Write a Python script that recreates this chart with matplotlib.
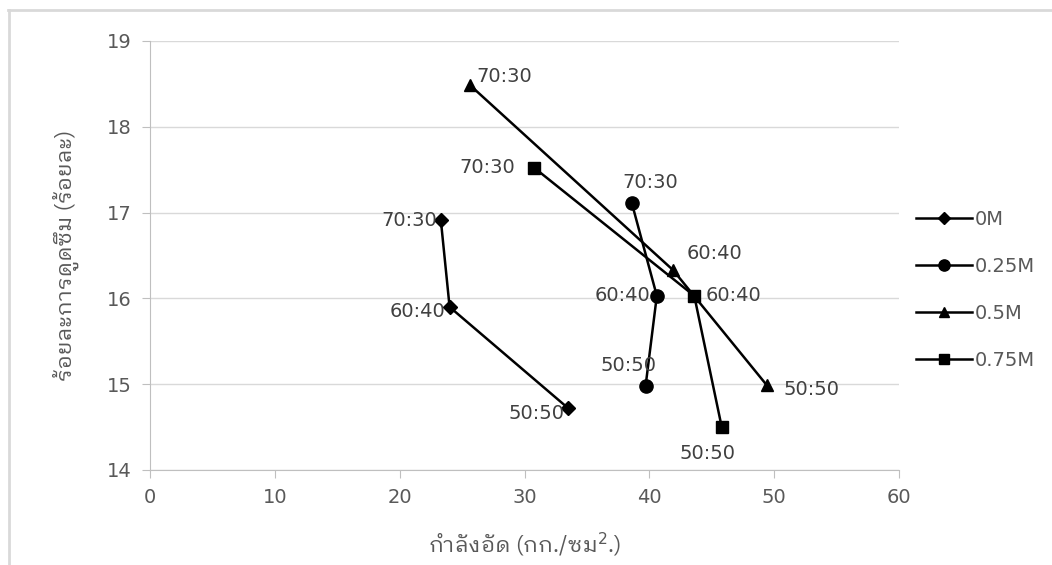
import matplotlib
matplotlib.use("Agg")
import matplotlib.pyplot as plt
from matplotlib.lines import Line2D

series = ["0M", "0.25M", "0.5M", "0.75M"]
labels_pt = ["70:30", "60:40", "50:50"]
x_0M = [23.3, 24.0, 33.5]
y_0M = [16.91, 15.90, 14.72]
x_025M = [38.6, 40.6, 39.7]
y_025M = [17.11, 16.03, 14.98]
x_05M = [25.6, 41.9, 49.4]
y_05M = [18.49, 16.33, 14.99]
x_075M = [30.8, 43.6, 45.8]
y_075M = [17.52, 16.03, 14.50]

xs = [x_0M, x_025M, x_05M, x_075M]
ys = [y_0M, y_025M, y_05M, y_075M]
markers = ["D", "o", "^", "s"]
msizes = [7, 9.5, 9, 9]

W, H = 1052, 565
fig = plt.figure(figsize=(W/100, H/100), dpi=100)
ax = fig.add_axes([150/W, 1-470/H, (899-150)/W, (470-41)/H])

for x, y, m, ms, s in zip(xs, ys, markers, msizes, series):
    ax.plot(x, y, color="black", lw=1.8, marker=m, ms=ms, label=s)

txtc = "#404040"
fs = 14
# label offsets in points (dx, dy, ha, va)
offs = [
    [(-3, 0, "right", "center"), (-3, -3, "right", "center"), (-3, -4, "right", "center")],
    [(-7, 8, "left", "bottom"), (-5, 0, "right", "center"), (-12, 8, "center", "bottom")],
    [(5, 6, "left", "center"), (10, 5, "left", "bottom"), (12, -3, "left", "center")],
    [(-14, 0, "right", "center"), (8, 0, "left", "center"), (-10, -12, "center", "top")],
]
for x, y, off in zip(xs, ys, offs):
    for xi, yi, lab, (dx, dy, ha, va) in zip(x, y, labels_pt, off):
        ax.annotate(lab, (xi, yi), xytext=(dx, dy), textcoords="offset points",
                    ha=ha, va=va, fontsize=fs, color=txtc)

ax.set_xlim(0, 60)
ax.set_ylim(14, 19)
ax.set_xticks(range(0, 61, 10))
ax.set_yticks(range(14, 20))
ax.grid(axis="y", color="#d9d9d9", lw=1)
ax.set_axisbelow(True)
for sp in ["top", "right"]:
    ax.spines[sp].set_visible(False)
for sp in ["left", "bottom"]:
    ax.spines[sp].set_color("#bfbfbf")
ax.tick_params(colors="#595959", labelsize=14, length=6, direction="out", pad=7)
ax.tick_params(axis="both", color="#bfbfbf")

fam = ["IBM Plex Sans Thai Looped", "DejaVu Sans"]
ax.set_xlabel("กำลังอัด (กก./ซม$^{2}$.)", fontsize=16, color="#595959", family=fam, labelpad=17)
ax.set_ylabel("ร้อยละการดูดซึม (ร้อยละ)", fontsize=16, color="#595959", family=fam, labelpad=20)

ax.legend(loc="center left", bbox_to_anchor=(898/W, 1-290/H), bbox_transform=fig.transFigure,
          frameon=False, fontsize=14, labelcolor="#595959", handlelength=2.9, labelspacing=1.45,
          handletextpad=0.15, markerscale=0.85)

fig.add_artist(Line2D([8/W, 1], [1-10/H, 1-10/H], color="#d9d9d9", lw=2))
fig.add_artist(Line2D([9/W, 9/W], [0, 1-10/H], color="#d9d9d9", lw=2))

fig.savefig("out.png", dpi=100)
